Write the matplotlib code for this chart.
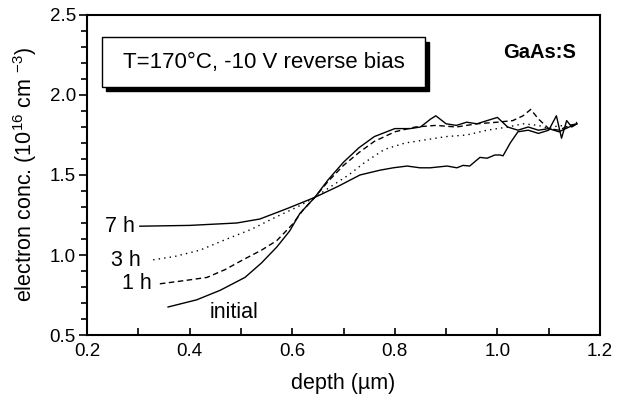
import matplotlib
matplotlib.use('Agg')
from matplotlib import pyplot
from matplotlib.patches import Rectangle
from matplotlib.ticker import MultipleLocator, FormatStrFormatter

matplotlib.rcParams['font.family'] = ['Liberation Sans', 'DejaVu Sans']
matplotlib.rcParams['mathtext.fontset'] = 'custom'
matplotlib.rcParams['mathtext.rm'] = 'Liberation Sans'
matplotlib.rcParams['mathtext.it'] = 'Liberation Sans'
matplotlib.rcParams['font.size'] = 12

# depth (um) / electron conc. (1e16 cm^-3)
x_init = [0.358, 0.414, 0.46, 0.508, 0.54, 0.57, 0.595, 0.615, 0.644, 0.67, 0.70, 0.73,
          0.76, 0.80, 0.83, 0.85, 0.87, 0.88, 0.90, 0.92, 0.94, 0.96, 0.98, 1.00, 1.02,
          1.04, 1.06, 1.08, 1.10, 1.12, 1.14, 1.155]
y_init = [0.675, 0.72, 0.78, 0.86, 0.95, 1.05, 1.15, 1.26, 1.36, 1.47, 1.58, 1.67,
          1.74, 1.79, 1.79, 1.80, 1.85, 1.87, 1.82, 1.81, 1.83, 1.82, 1.84, 1.86, 1.80,
          1.78, 1.80, 1.78, 1.79, 1.77, 1.80, 1.82]

x_1h = [0.342, 0.39, 0.434, 0.47, 0.504, 0.54, 0.57, 0.60, 0.621, 0.644, 0.67, 0.70,
        0.73, 0.76, 0.80, 0.84, 0.88, 0.92, 0.96, 1.00, 1.03, 1.05, 1.065, 1.08, 1.10,
        1.12, 1.14, 1.155]
y_1h = [0.82, 0.84, 0.86, 0.91, 0.97, 1.03, 1.09, 1.19, 1.28, 1.36, 1.46, 1.56,
        1.64, 1.71, 1.77, 1.80, 1.81, 1.80, 1.82, 1.83, 1.84, 1.87, 1.91, 1.85, 1.79,
        1.78, 1.81, 1.82]

x_3h = [0.329, 0.37, 0.42, 0.465, 0.52, 0.57, 0.61, 0.644, 0.674, 0.71, 0.742, 0.78,
        0.82, 0.86, 0.90, 0.94, 0.98, 1.02, 1.05, 1.08, 1.10, 1.12, 1.14, 1.155]
y_3h = [0.97, 0.99, 1.03, 1.09, 1.16, 1.24, 1.30, 1.36, 1.425, 1.50, 1.58, 1.66,
        1.70, 1.72, 1.74, 1.75, 1.78, 1.80, 1.82, 1.81, 1.79, 1.81, 1.80, 1.83]

x_7h = [0.303, 0.40, 0.492, 0.537, 0.59, 0.644, 0.69, 0.732, 0.771, 0.797, 0.824, 0.849,
        0.869, 0.902, 0.921, 0.933, 0.946, 0.966, 0.98, 0.995, 1.005, 1.011, 1.025, 1.04,
        1.06, 1.08, 1.10, 1.115, 1.125, 1.135, 1.145, 1.155]
y_7h = [1.18, 1.185, 1.20, 1.225, 1.29, 1.36, 1.43, 1.50, 1.53, 1.545, 1.556, 1.545,
        1.545, 1.556, 1.545, 1.56, 1.556, 1.61, 1.605, 1.625, 1.625, 1.62, 1.70, 1.77,
        1.78, 1.76, 1.78, 1.87, 1.73, 1.84, 1.80, 1.82]

fig = pyplot.figure(figsize=(6.23, 4.03), dpi=100)
ax = fig.add_axes([87/623, 1-335/403, 513/623, 320/403])

ax.plot(x_init, y_init, c='k', lw=1.0)
ax.plot(x_1h, y_1h, c='k', lw=1.0, ls=(0, (4, 2.5)))
ax.plot(x_3h, y_3h, c='k', lw=1.0, ls=(0, (1, 3)))
ax.plot(x_7h, y_7h, c='k', lw=1.0)

ax.text(0.293, 1.18, '7 h', ha='right', va='center', fontsize=15.5)
ax.text(0.305, 0.965, '3 h', ha='right', va='center', fontsize=15.5)
ax.text(0.327, 0.82, '1 h', ha='right', va='center', fontsize=15.5)
ax.text(0.487, 0.64, 'initial', ha='center', va='center', fontsize=15.5)

ax.set_xlim(0.2, 1.2)
ax.set_ylim(0.5, 2.5)
ax.xaxis.set_major_locator(MultipleLocator(0.2))
ax.xaxis.set_minor_locator(MultipleLocator(0.1))
ax.yaxis.set_major_locator(MultipleLocator(0.5))
ax.yaxis.set_minor_locator(MultipleLocator(0.1))
ax.xaxis.set_major_formatter(FormatStrFormatter('%.1f'))
ax.yaxis.set_major_formatter(FormatStrFormatter('%.1f'))
ax.tick_params(axis='x', which='both', direction='in', length=5, width=1.2, labelsize=13.5, pad=6)
ax.tick_params(axis='y', which='major', direction='out', length=6, width=1.2, labelsize=13.5, pad=2)
ax.tick_params(axis='y', which='minor', direction='out', length=4, width=1.2)
for s in ax.spines.values():
    s.set_linewidth(1.5)

ax.set_xlabel('depth (µm)', fontsize=15.5, labelpad=9)
ax.set_ylabel('electron conc. (10$^{16}$ cm $^{-3}$)', fontsize=15.5, labelpad=8)

# boxed annotation with drop shadow
bx0, by0, bw, bh = 0.029, 0.775, 0.63, 0.156
ax.add_patch(Rectangle((bx0 + 0.008, by0 - 0.014), bw, bh, transform=ax.transAxes,
                       facecolor='k', edgecolor='k', zorder=4))
ax.add_patch(Rectangle((bx0, by0), bw, bh, transform=ax.transAxes,
                       facecolor='white', edgecolor='k', lw=1.0, zorder=5))
ax.text(bx0 + bw/2, by0 + bh/2, 'T=170°C, -10 V reverse bias', transform=ax.transAxes,
        ha='center', va='center', fontsize=16, zorder=6)

ax.text(0.883, 0.884, 'GaAs:S', transform=ax.transAxes, ha='center', va='center',
        fontsize=14.5, fontweight='bold')

fig.savefig('out.png', dpi=100)
